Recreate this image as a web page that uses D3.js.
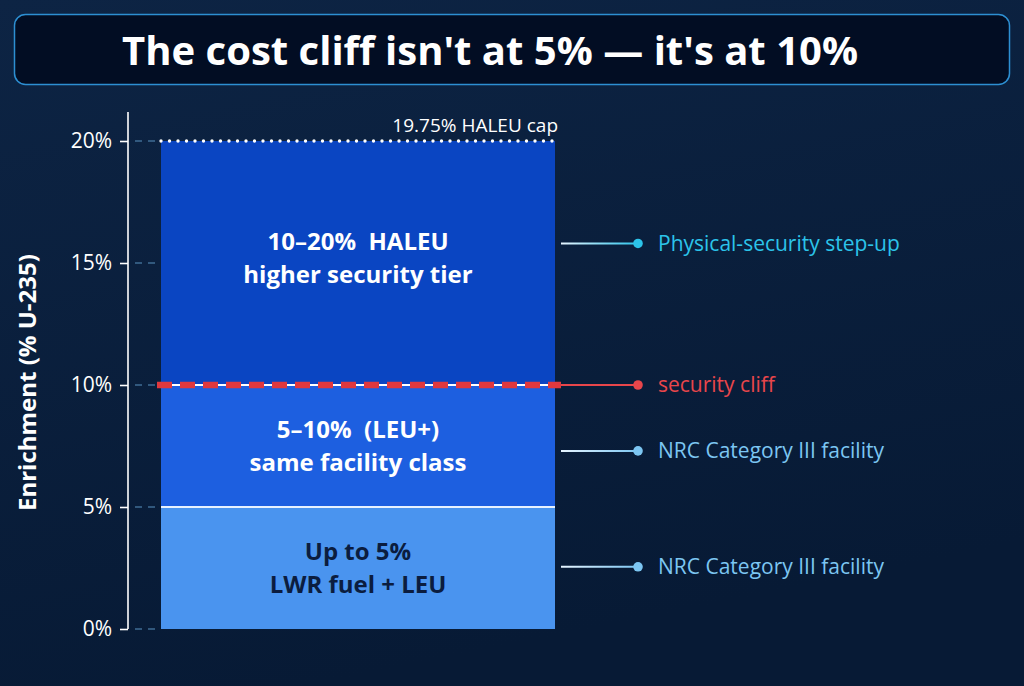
<!DOCTYPE html>
<html>
<head>
<meta charset="utf-8">
<script src="https://cdn.jsdelivr.net/npm/d3@7"></script>
<style>
  html, body { margin: 0; padding: 0; background: #0a1f3b; }
  svg { display: block; font-family: "Open Sans", "Noto Sans", sans-serif; }
</style>
</head>
<body>
<div id="chart"></div>
<script>
// enrichment bands (% U-235)
var bandFrom = [0, 5, 10];
var bandTo = [5, 10, 20];
var bandTitles = ["Up to 5%", "5–10%  (LEU+)", "10–20%  HALEU"];
var bandSubtitles = ["LWR fuel + LEU", "same facility class", "higher security tier"];

var yTicks = [0, 5, 10, 15, 20];
var capValue = 20;
var capLabel = "19.75% HALEU cap";
var cliffValue = 10;

// right-hand notes
var noteValues = [15.8, 10, 7.3, 2.55];
var noteLabels = ["Physical-security step-up", "security cliff", "NRC Category III facility", "NRC Category III facility"];

var titleText = "The cost cliff isn't at 5% — it's at 10%";
var yTitle = "Enrichment (% U-235)";

// palette
var bandFill = ["#4a94ef", "#1d5fe0", "#0a45c2"];
var bandInk = ["#0b1d3f", "#ffffff", "#ffffff"];
var noteColor = ["#2cc4ea", "#e8464b", "#7cc6f2", "#7cc6f2"];

var width = 1024, height = 686;
var svg = d3.select("#chart").append("svg")
  .attr("width", width)
  .attr("height", height);

var defs = svg.append("defs");
var bg = defs.append("linearGradient").attr("id", "bg")
  .attr("x1", 0).attr("y1", 0).attr("x2", 0.3).attr("y2", 1);
bg.append("stop").attr("offset", 0).attr("stop-color", "#0d2444");
bg.append("stop").attr("offset", 1).attr("stop-color", "#071a35");

noteColor.forEach(function (c, i) {
  var g = defs.append("linearGradient").attr("id", "lead" + i)
    .attr("x1", 0).attr("y1", 0).attr("x2", 1).attr("y2", 0);
  g.append("stop").attr("offset", 0).attr("stop-color", i === 1 ? c : "#e6f4ff");
  g.append("stop").attr("offset", 1).attr("stop-color", c);
});

svg.append("rect").attr("width", width).attr("height", height).attr("fill", "url(#bg)");

// title box
svg.append("rect")
  .attr("x", 14.5).attr("y", 14.5)
  .attr("width", 995).attr("height", 70)
  .attr("rx", 11)
  .attr("fill", "#020d23")
  .attr("stroke", "#2d8fd2")
  .attr("stroke-width", 1.5);
svg.append("text")
  .attr("x", 490).attr("y", 65)
  .attr("text-anchor", "middle")
  .attr("fill", "#ffffff")
  .attr("font-size", 40)
  .attr("font-weight", 700)
  .attr("textLength", 736)
  .attr("lengthAdjust", "spacingAndGlyphs")
  .text(titleText);

// scales
var axisX = 128;
var barLeft = 161, barRight = 555;
var y = d3.scaleLinear().domain([0, 20]).range([629, 141]);

// y axis
var axisG = svg.append("g")
  .attr("transform", "translate(" + axisX + ",0)")
  .call(d3.axisLeft(y).tickValues(yTicks)
    .tickFormat(function (d) { return d + "%"; })
    .tickSize(8).tickSizeOuter(0).tickPadding(8));
axisG.select(".domain").remove();
axisG.selectAll(".tick line").attr("stroke", "#ffffff").attr("stroke-width", 1.6);
axisG.selectAll(".tick text")
  .attr("fill", "#ffffff")
  .attr("font-size", 21)
  .attr("font-family", "\"Open Sans\", sans-serif");
svg.append("line")
  .attr("x1", axisX).attr("x2", axisX)
  .attr("y1", y(0)).attr("y2", y(20) - 29)
  .attr("stroke", "#ffffff").attr("stroke-width", 1.6);

// dashed stubs from axis to bar
svg.selectAll(".stub").data(yTicks).enter().append("line")
  .attr("class", "stub")
  .attr("x1", axisX + 7).attr("x2", barLeft - 1)
  .attr("y1", function (d) { return y(d); })
  .attr("y2", function (d) { return y(d); })
  .attr("stroke", "#3f6c94").attr("stroke-width", 1.5)
  .attr("stroke-dasharray", "7,6");

svg.append("text")
  .attr("transform", "translate(36," + y(10.1) + ") rotate(-90)")
  .attr("text-anchor", "middle")
  .attr("fill", "#ffffff")
  .attr("font-size", 24)
  .attr("font-weight", 700)
  .text(yTitle);

// bands
var bands = bandFrom.map(function (f, i) {
  return { from: f, to: bandTo[i], title: bandTitles[i], sub: bandSubtitles[i], i: i };
});
svg.selectAll(".band").data(bands).enter().append("rect")
  .attr("class", "band")
  .attr("x", barLeft)
  .attr("width", barRight - barLeft)
  .attr("y", function (d) { return y(d.to); })
  .attr("height", function (d) { return y(d.from) - y(d.to); })
  .attr("fill", function (d) { return bandFill[d.i]; });

// white divider at 5%
svg.append("line")
  .attr("x1", barLeft).attr("x2", barRight)
  .attr("y1", y(bandTo[0])).attr("y2", y(bandTo[0]))
  .attr("stroke", "#e8f2ff").attr("stroke-width", 2);

var labelG = svg.selectAll(".blabel").data(bands).enter().append("g")
  .attr("class", "blabel")
  .attr("transform", function (d) {
    return "translate(" + (barLeft + barRight) / 2 + "," + y((d.from + d.to) / 2) + ")";
  });
labelG.append("text")
  .attr("y", function (d) { return d.i === 2 ? -13 : -8; })
  .attr("text-anchor", "middle")
  .attr("fill", function (d) { return bandInk[d.i]; })
  .attr("font-size", 24).attr("font-weight", 700)
  .style("white-space", "pre")
  .text(function (d) { return d.title; });
labelG.append("text")
  .attr("y", function (d) { return d.i === 2 ? 20 : 25; })
  .attr("text-anchor", "middle")
  .attr("fill", function (d) { return bandInk[d.i]; })
  .attr("font-size", 24).attr("font-weight", 700)
  .text(function (d) { return d.sub; });

// HALEU cap dotted line
svg.append("line")
  .attr("x1", barLeft).attr("x2", barRight)
  .attr("y1", y(capValue)).attr("y2", y(capValue))
  .attr("stroke", "#ffffff").attr("stroke-width", 3.4)
  .attr("stroke-linecap", "round")
  .attr("stroke-dasharray", "0,8.5");
svg.append("text")
  .attr("x", barRight + 3).attr("y", y(capValue) - 9)
  .attr("text-anchor", "end")
  .attr("fill", "#ffffff")
  .attr("font-size", 19)
  .text(capLabel);

// security cliff line
svg.append("line")
  .attr("x1", axisX + 30).attr("x2", barRight + 6)
  .attr("y1", y(cliffValue)).attr("y2", y(cliffValue))
  .attr("stroke", "#ffffff").attr("stroke-width", 2);
svg.append("line")
  .attr("x1", barLeft - 4).attr("x2", barRight + 6)
  .attr("y1", y(cliffValue)).attr("y2", y(cliffValue))
  .attr("stroke", "#e0383e").attr("stroke-width", 6.5)
  .attr("stroke-dasharray", "15,8");

// notes on the right
var notes = noteValues.map(function (v, i) { return { v: v, label: noteLabels[i], i: i }; });
var noteG = svg.selectAll(".note").data(notes).enter().append("g")
  .attr("class", "note")
  .attr("transform", function (d) { return "translate(0," + y(d.v) + ")"; });
noteG.append("line")
  .attr("x1", barRight + 6).attr("x2", 638)
  .attr("y1", 0).attr("y2", 0.01)
  .attr("stroke", function (d) { return "url(#lead" + d.i + ")"; })
  .attr("stroke-width", 2);
noteG.append("circle")
  .attr("cx", 638).attr("cy", 0).attr("r", 4.8)
  .attr("fill", function (d) { return noteColor[d.i]; });
noteG.append("text")
  .attr("x", 658).attr("y", 0)
  .attr("dy", "0.35em")
  .attr("fill", function (d) { return noteColor[d.i]; })
  .attr("font-size", 21)
  .text(function (d) { return d.label; });
</script>
</body>
</html>
